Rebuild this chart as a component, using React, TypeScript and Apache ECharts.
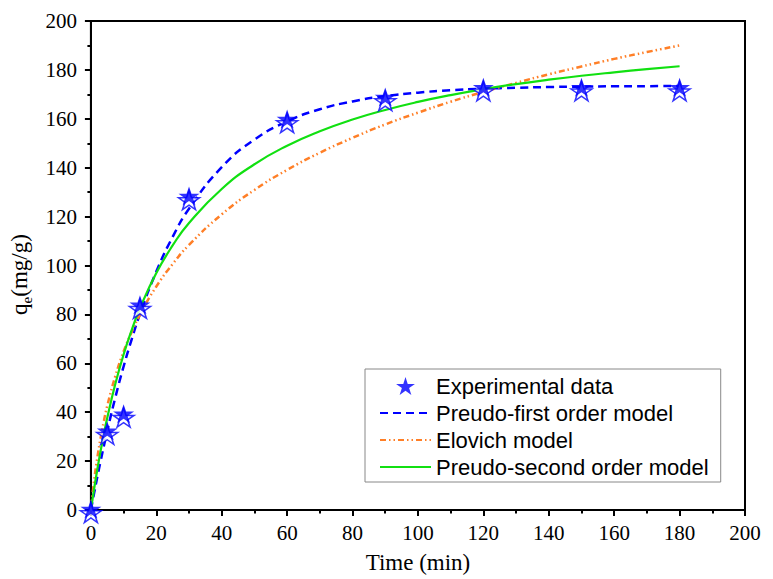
import React, { useEffect, useRef } from "react";
import * as echarts from "echarts";

const expTime = [0, 5, 10, 15, 30, 60, 90, 120, 150, 180];
const expQ = [0, 32, 39, 83.5, 128, 159.5, 168.5, 172.5, 172.5, 172.5];

const modelTime = [0, 1, 2, 3, 4, 5, 7.5, 10, 12.5, 15, 20, 25, 30, 40, 50, 60, 70, 80, 90, 100, 110, 120, 130, 140, 150, 160, 170, 180];
const pfoQ = [0, 7.0, 13.8, 20.2, 26.4, 32.4, 46.2, 58.7, 69.9, 80.1, 97.5, 111.7, 123.2, 140.2, 151.5, 158.9, 163.9, 167.1, 169.3, 170.7, 171.7, 172.3, 172.7, 173.0, 173.15, 173.3, 173.35, 173.4];
const elovichQ = [0, 12.1, 21.7, 29.7, 36.6, 42.6, 54.9, 64.8, 72.9, 79.9, 91.4, 100.6, 108.4, 120.9, 130.9, 139.1, 146.1, 152.2, 157.7, 162.5, 167.0, 171.0, 174.7, 178.2, 181.4, 184.5, 187.3, 190.0];
const psoQ = [0, 8.8, 16.9, 24.4, 31.3, 37.7, 51.7, 63.6, 73.7, 82.5, 96.9, 108.2, 117.4, 131.3, 141.4, 149.0, 154.9, 159.7, 163.6, 166.9, 169.7, 172.1, 174.2, 176.0, 177.6, 179.0, 180.3, 181.5];

const xTicks = { min: 0, max: 200, interval: 20 };
const yTicks = { min: 0, max: 200, interval: 20 };

const seriesNames = ["Experimental data", "Preudo-first order model", "Elovich model", "Preudo-second order model"];

const STAR = "path://M100,0 L122.45,69.1 L195.1,69.1 L136.3,111.8 L158.8,180.9 L100,138.2 L41.2,180.9 L63.7,111.8 L4.9,69.1 L77.55,69.1 Z";

const pair = (xs: number[], ys: number[]) => xs.map((x, i) => [x, ys[i]]);

export default function App() {
  const ref = useRef<HTMLDivElement>(null);
  useEffect(() => {
    if (!ref.current) return;
    const chart = echarts.init(ref.current, undefined, { renderer: "svg" });
    const serif = "Liberation Serif, Times New Roman, serif";
    const sans = "Liberation Sans, Arial, sans-serif";
    const axisCommon = {
      axisLine: { show: true, onZero: false, lineStyle: { color: "#000", width: 2 } },
      axisTick: { show: true, inside: false, length: 6, lineStyle: { color: "#000", width: 2 } },
      minorTick: { show: true, splitNumber: 2, length: 3.5, lineStyle: { color: "#000", width: 2 } },
      splitLine: { show: false },
      minorSplitLine: { show: false },
      axisLabel: { color: "#000", fontFamily: serif, fontSize: 21 },
    };
    const hiddenSym = { color: "rgba(0,0,0,0)", borderWidth: 0, opacity: 0 };
    chart.setOption({
      animation: false,
      backgroundColor: "#fff",
      grid: { left: 90, right: 28, top: 21, bottom: 67, show: true, borderColor: "#000", borderWidth: 2 },
      xAxis: {
        type: "value",
        ...xTicks,
        ...axisCommon,
        axisLabel: { ...axisCommon.axisLabel, margin: 12 },
        name: "Time (min)",
        nameLocation: "middle",
        nameGap: 41,
        nameTextStyle: { color: "#000", fontFamily: serif, fontSize: 23 },
      },
      yAxis: {
        type: "value",
        ...yTicks,
        ...axisCommon,
        axisLabel: { ...axisCommon.axisLabel, margin: 14 },
        name: "{q|q}{e|e}{t|(mg/g)}",
        nameLocation: "middle",
        nameGap: 56,
        nameRotate: 90,
        nameTextStyle: {
          color: "#000",
          padding: [0, 18, 0, 0],
          rich: {
            q: { fontFamily: serif, fontSize: 23, color: "#000", lineHeight: 30, verticalAlign: "middle" },
            e: { fontFamily: serif, fontSize: 15, color: "#000", lineHeight: 30, verticalAlign: "bottom" },
            t: { fontFamily: serif, fontSize: 23, color: "#000", lineHeight: 30, verticalAlign: "middle" },
          },
        },
      },
      legend: {
        orient: "vertical",
        left: 365,
        top: 369,
        padding: [6, 12, 4, 14],
        borderColor: "#888",
        borderWidth: 1,
        itemWidth: 51,
        itemHeight: 18,
        itemGap: 5,
        textStyle: { color: "#000", fontFamily: sans, fontSize: 22, lineHeight: 21 },
        data: [
          { name: seriesNames[0] },
          { name: seriesNames[1], itemStyle: hiddenSym },
          { name: seriesNames[2], itemStyle: hiddenSym },
          { name: seriesNames[3], itemStyle: hiddenSym },
        ],
      },
      series: [
        {
          name: seriesNames[0],
          type: "scatter",
          data: pair(expTime, expQ),
          symbol: STAR,
          symbolSize: [21, 20],
          symbolKeepAspect: true,
          symbolOffset: [0, -1],
          itemStyle: { color: "#0000ff" },
          clip: true,
          z: 5,
        },
        {
          name: "hollow",
          type: "scatter",
          data: pair(expTime, expQ),
          symbol: STAR,
          symbolSize: [21, 20],
          symbolKeepAspect: true,
          symbolOffset: [0, 3],
          itemStyle: { color: "#fff", borderColor: "#0000ff", borderWidth: 1.5 },
          clip: true,
          z: 4,
          legendHoverLink: false,
        },
        {
          name: seriesNames[1],
          type: "line",
          data: pair(modelTime, pfoQ),
          smooth: true,
          symbol: "none",
          lineStyle: { color: "#0000ff", width: 2.5, type: [8, 5] },
          itemStyle: { color: "#0000ff" },
          z: 3,
        },
        {
          name: seriesNames[2],
          type: "line",
          data: pair(modelTime, elovichQ),
          smooth: true,
          symbol: "none",
          lineStyle: { color: "#ff7f27", width: 2.5, type: [6, 3, 1.5, 3, 1.5, 3] },
          itemStyle: { color: "#ff7f27" },
          z: 3,
        },
        {
          name: seriesNames[3],
          type: "line",
          data: pair(modelTime, psoQ),
          smooth: true,
          symbol: "none",
          lineStyle: { color: "#11e011", width: 2.2 },
          itemStyle: { color: "#11e011" },
          z: 3,
        },
      ],
    });
    return () => chart.dispose();
  }, []);
  return <div ref={ref} style={{ position: "fixed", left: 0, top: 0, width: 773, height: 579, background: "#fff" }} />;
}
